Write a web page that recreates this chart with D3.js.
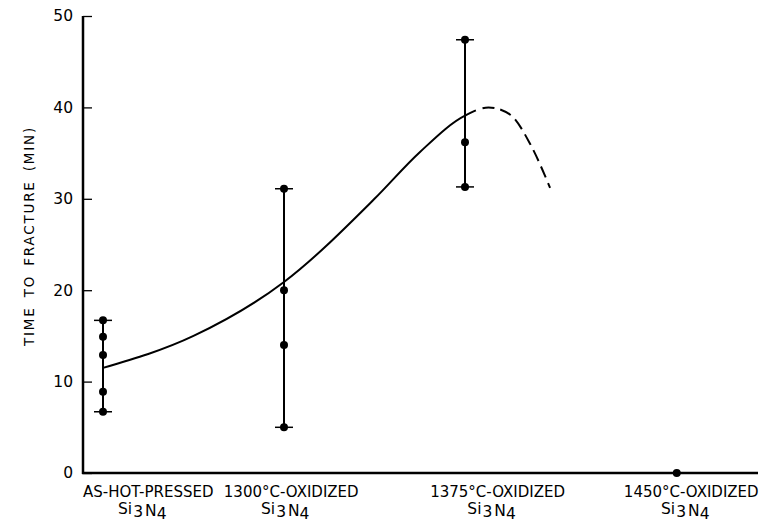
<html>
<script src="https://d3js.org/d3.v7.min.js"></script>
<body style="margin:0;background:#fff">
<svg id="chart" width="762" height="522"></svg>
<script>
// sample groups along the x axis (position in group units)
var groups = ["AS-HOT-PRESSED", "1300\u00B0C-OXIDIZED", "1375\u00B0C-OXIDIZED", "1450\u00B0C-OXIDIZED"];
var groupX = [0, 1, 2, 3.17];
var labelX = [0.25, 1.04, 2.18, 3.25];

// individual times to fracture (min) for each group
var hotPressed = [16.7, 14.9, 12.9, 8.9, 6.7];
var ox1300 = [31.1, 20.0, 14.0, 5.0];
var ox1375 = [47.4, 36.2, 31.3];
var ox1450 = [0];
var samples = [hotPressed, ox1300, ox1375, ox1450];

// hand-drawn trend curve, dashed after dashFrom
var trend = [[0, 11.5], [0.5, 15], [1, 20.9], [1.5, 30], [1.75, 35.1], [2, 39.1], [2.13, 40],
             [2.25, 39.2], [2.36, 36], [2.47, 31.2]];
var dashFrom = 2.06;

var yTicks = [0, 10, 20, 30, 40, 50];

var svg = d3.select("#chart");
var x = d3.scaleLinear().domain([0, 1]).range([103, 284]);
var y = d3.scaleLinear().domain([0, 50]).range([473, 16]);
var font = "'DejaVu Sans', sans-serif";

// axes
svg.append("line").attr("x1", 83).attr("x2", 83).attr("y1", y(50)).attr("y2", y(0) + 1)
    .attr("stroke", "#000").attr("stroke-width", 2.5);
svg.append("line").attr("x1", 82).attr("x2", 758).attr("y1", y(0)).attr("y2", y(0))
    .attr("stroke", "#000").attr("stroke-width", 2.5);

var ya = svg.append("g").attr("transform", "translate(83,0)")
    .call(d3.axisLeft(y).tickValues(yTicks).tickSize(-9).tickPadding(20));
ya.select(".domain").remove();
ya.selectAll("line").attr("stroke-width", 1.3);
ya.selectAll("text").attr("font-family", font).attr("font-size", 15.5).attr("fill", "#000")
    .attr("x", -10);

svg.append("text")
    .attr("transform", "translate(34,236) rotate(-90)")
    .attr("text-anchor", "middle")
    .attr("font-family", font).attr("font-size", 13.5)
    .attr("letter-spacing", 1.8).attr("word-spacing", 3)
    .text("TIME TO FRACTURE (MIN)");

// category labels
groups.forEach(function(g, i) {
    svg.append("text").attr("x", x(labelX[i])).attr("y", 497)
        .attr("text-anchor", "middle").attr("font-family", font).attr("font-size", 15)
        .text(g);
    var s = svg.append("text").attr("x", x(labelX[i]) - 6).attr("y", 514)
        .attr("text-anchor", "middle").attr("font-family", font).attr("font-size", 15.5);
    s.append("tspan").text("Si");
    s.append("tspan").attr("dy", 3).attr("dx", 1).text("3");
    s.append("tspan").attr("dy", -1).attr("dx", 2).text("N");
    s.append("tspan").attr("dy", 3).text("4");
});

// trend curve: one path, solid up to dashFrom then dashed
var line = d3.line().x(function(d) { return x(d[0]); }).y(function(d) { return y(d[1]); })
    .curve(d3.curveMonotoneX);
var path = svg.append("path").datum(trend).attr("d", line)
    .attr("fill", "none").attr("stroke", "#000").attr("stroke-width", 2);
var node = path.node(), total = node.getTotalLength();
var lo = 0, hi = total;
for (var k = 0; k < 30; k++) {
    var mid = (lo + hi) / 2;
    if (node.getPointAtLength(mid).x < x(dashFrom)) lo = mid; else hi = mid;
}
var dashes = [lo.toFixed(1), 7];
for (var L = lo + 7; L < total; L += 18) dashes.push(12, 6);
path.attr("stroke-dasharray", dashes.join(","));

// scatter bars with end caps
samples.forEach(function(vals, i) {
    var g = svg.append("g");
    var cx = x(groupX[i]);
    if (vals.length > 1) {
        var vmax = d3.max(vals), vmin = d3.min(vals);
        g.append("line").attr("x1", cx).attr("x2", cx).attr("y1", y(vmax)).attr("y2", y(vmin))
            .attr("stroke", "#000").attr("stroke-width", 2);
        [vmax, vmin].forEach(function(v) {
            g.append("line").attr("x1", cx - 9).attr("x2", cx + 9).attr("y1", y(v)).attr("y2", y(v))
                .attr("stroke", "#000").attr("stroke-width", 1.5);
        });
    }
    g.selectAll("circle").data(vals).enter().append("circle")
        .attr("cx", cx).attr("cy", function(d) { return y(d); })
        .attr("r", 4).attr("fill", "#000");
});
</script>
</body>
</html>
